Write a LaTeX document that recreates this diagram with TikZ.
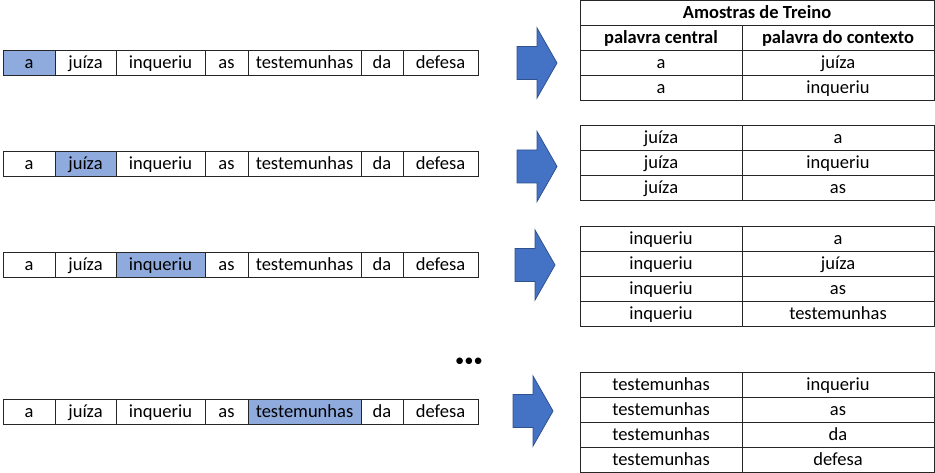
\documentclass[tikz,border=0pt]{standalone}
\usepackage{fontspec}
\setmainfont{Carlito}
\usepackage{xcolor}
\usepackage{tikz}
\usetikzlibrary{positioning}

\definecolor{hiblue}{HTML}{8FAADC}
\definecolor{arrowblue}{HTML}{4472C4}
\definecolor{arrowedge}{HTML}{2F528F}
\newcommand\cellfont{\fontsize{18.5}{22}\selectfont}

\begin{document}
\begin{tikzpicture}[
      x=1pt, y=-1pt,
      word/.style={
         draw=black!85,
         line width=0.8pt,
         inner sep=0pt,
         outer sep=0pt,
         minimum height=25pt,
         text height=14pt,
         text depth=2.4pt,
         font=\cellfont},
      cell/.style={word},
      ccell/.style={cell, minimum width=162pt},
      xcell/.style={cell, minimum width=192pt},
      bigarrow/.style={draw=arrowedge, fill=arrowblue, line width=0.8pt},
      node distance=0pt
      ]
\useasboundingbox (0,0) rectangle (935,473);

% sentences, one word highlighted per row
\foreach \row/\y/\hi in {1/62.5/1, 2/163.5/2, 3/264.5/3, 4/411.5/5}{
   \coordinate (s\row w0) at (3,\y);
   \foreach \w/\wlen [count=\i] in {a/52, juíza/61, inqueriu/89, as/43,
         testemunhas/113, da/42, defesa/75}{
      \pgfmathtruncatemacro\prev{\i-1}
      \ifnum\i=\hi \def\fillc{hiblue}\else\def\fillc{white}\fi
      \node[word, fill=\fillc, minimum width=\wlen pt,
            right=of s\row w\prev] (s\row w\i) {\w};
   }
}

% block arrows
\foreach \i/\x/\y in {1/517/63, 2/517/166.5, 3/515/265, 4/513/411}{
   \coordinate (a\i) at (\x,\y);
   \draw[bigarrow] (a\i) ++(0,-16.5) -- ++(20,0) -- ++(0,-18.5)
      -- ++(20,35) -- ++(-20,35) -- ++(0,-18.5) -- ++(-20,0) -- cycle;
}

% first table: title and header
\node[cell, minimum width=354pt, anchor=north west, font=\cellfont\bfseries]
   (t1title) at (580,0) {Amostras de Treino};
\node[ccell, font=\cellfont\bfseries, below=of t1title.south west, anchor=north west]
   (t1r0c) {palavra central};
\node[xcell, font=\cellfont\bfseries, right=of t1r0c] (t1r0x) {palavra do contexto};

\coordinate (t2r0c) at (661,125);
\coordinate (t3r0c) at (661,226);
\coordinate (t4r0c) at (661,372);

% training samples
\foreach \tb/\pairs in {%
      1/{a/juíza, a/inqueriu},
      2/{juíza/a, juíza/inqueriu, juíza/as},
      3/{inqueriu/a, inqueriu/juíza, inqueriu/as, inqueriu/testemunhas},
      4/{testemunhas/inqueriu, testemunhas/as, testemunhas/da, testemunhas/defesa}}{
   \foreach \cw/\xw [count=\j] in \pairs {
      \pgfmathtruncatemacro\prev{\j-1}
      \node[ccell, below=of t\tb r\prev c] (t\tb r\j c) {\cw};
      \node[xcell, right=of t\tb r\j c] (t\tb r\j x) {\xw};
   }
}

\node[font=\cellfont] (dots) at (469,362) {•••};

\end{tikzpicture}
\end{document}
